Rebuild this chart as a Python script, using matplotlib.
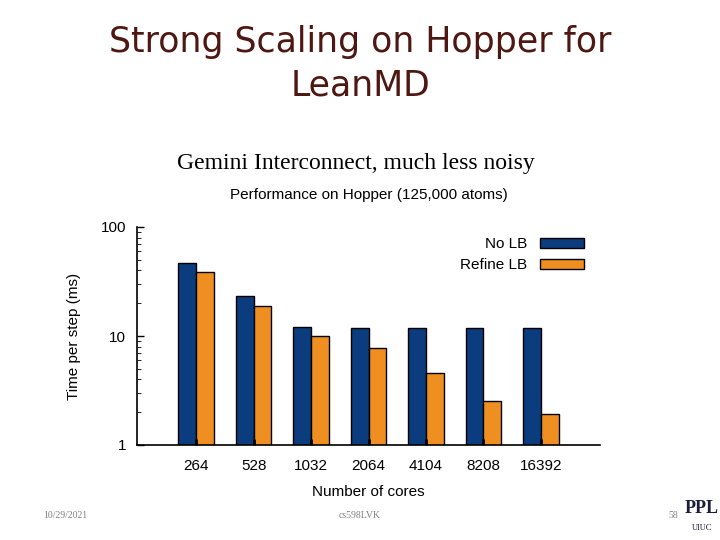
import numpy as np
import matplotlib
matplotlib.use('Agg')
import matplotlib.pyplot as plt

# Data
cores = ['264', '528', '1032', '2064', '4104', '8208', '16392']
no_lb = [46.8, 23.5, 12.1, 11.9, 11.9, 11.9, 11.9]
refine_lb = [38.4, 19.0, 10.1, 7.7, 4.6, 2.55, 1.91]

blue = '#0b3c7d'
orange = '#ef8f22'

plt.rcParams['font.family'] = 'Liberation Sans'

fig = plt.figure(figsize=(7.2, 5.4), dpi=100)

# Slide title and subtitle
fig.text(0.5, 0.922, 'Strong Scaling on Hopper for', ha='center', va='center',
         fontsize=25, color='#4e1712', family='DejaVu Sans')
fig.text(0.5, 0.842, 'LeanMD', ha='center', va='center',
         fontsize=25, color='#4e1712', family='DejaVu Sans')
fig.text(0.494, 0.698, 'Gemini Interconnect, much less noisy', ha='center', va='center',
         fontsize=17, family='Liberation Serif')

# Chart area
ax = fig.add_axes([137 / 720, 1 - 445 / 540, 463 / 720, 218 / 540])
x = np.arange(len(cores))
w = 0.31
ax.bar(x - w / 2, no_lb, w, color=blue, edgecolor='black', linewidth=1.0, label='No LB', zorder=2)
ax.bar(x + w / 2, refine_lb, w, color=orange, edgecolor='black', linewidth=1.0, label='Refine LB', zorder=2)
ax.set_axisbelow(False)

ax.set_yscale('log')
ax.set_ylim(1, 100)
ax.set_xlim(-1.03, 7.03)
ax.set_xticks(x)
ax.set_xticklabels(cores)
ax.set_yticks([1, 10, 100])
ax.set_yticklabels(['1', '10', '100'])
ax.tick_params(axis='both', direction='in', labelsize=11, pad=8, length=5, width=1)
ax.tick_params(axis='y', which='minor', direction='in', length=3)
ax.tick_params(axis='x', length=4, width=2, pad=10)
for s in ['top', 'right']:
    ax.spines[s].set_visible(False)
ax.spines['left'].set_linewidth(1.2)
ax.spines['bottom'].set_linewidth(1.2)

ax.set_xlabel('Number of cores', fontsize=11, labelpad=9)
ax.set_ylabel('Time per step (ms)', fontsize=11, labelpad=14)
ax.set_title('Performance on Hopper (125,000 atoms)', fontsize=11, pad=20)

leg = ax.legend(loc='upper right', markerfirst=False, frameon=False, fontsize=11,
                handlelength=2.9, handleheight=0.7, labelspacing=0.45,
                bbox_to_anchor=(0.995, 1.015))

# Footer
fig.text(0.09, 0.046, '10/29/2021', ha='center', va='center', fontsize=7,
         color='#808080', family='Liberation Serif')
fig.text(0.5, 0.046, 'cs598LVK', ha='center', va='center', fontsize=7,
         color='#808080', family='Liberation Serif')
fig.text(0.935, 0.046, '58', ha='center', va='center', fontsize=7,
         color='#808080', family='Liberation Serif')
fig.text(0.975, 0.058, 'PPL', ha='center', va='center', fontsize=13, fontweight='bold',
         color='#1a1a3a', family='Liberation Serif')
fig.text(0.975, 0.022, 'UIUC', ha='center', va='center', fontsize=6,
         color='#1a1a3a', family='Liberation Serif')

fig.savefig('out.png', dpi=100)
